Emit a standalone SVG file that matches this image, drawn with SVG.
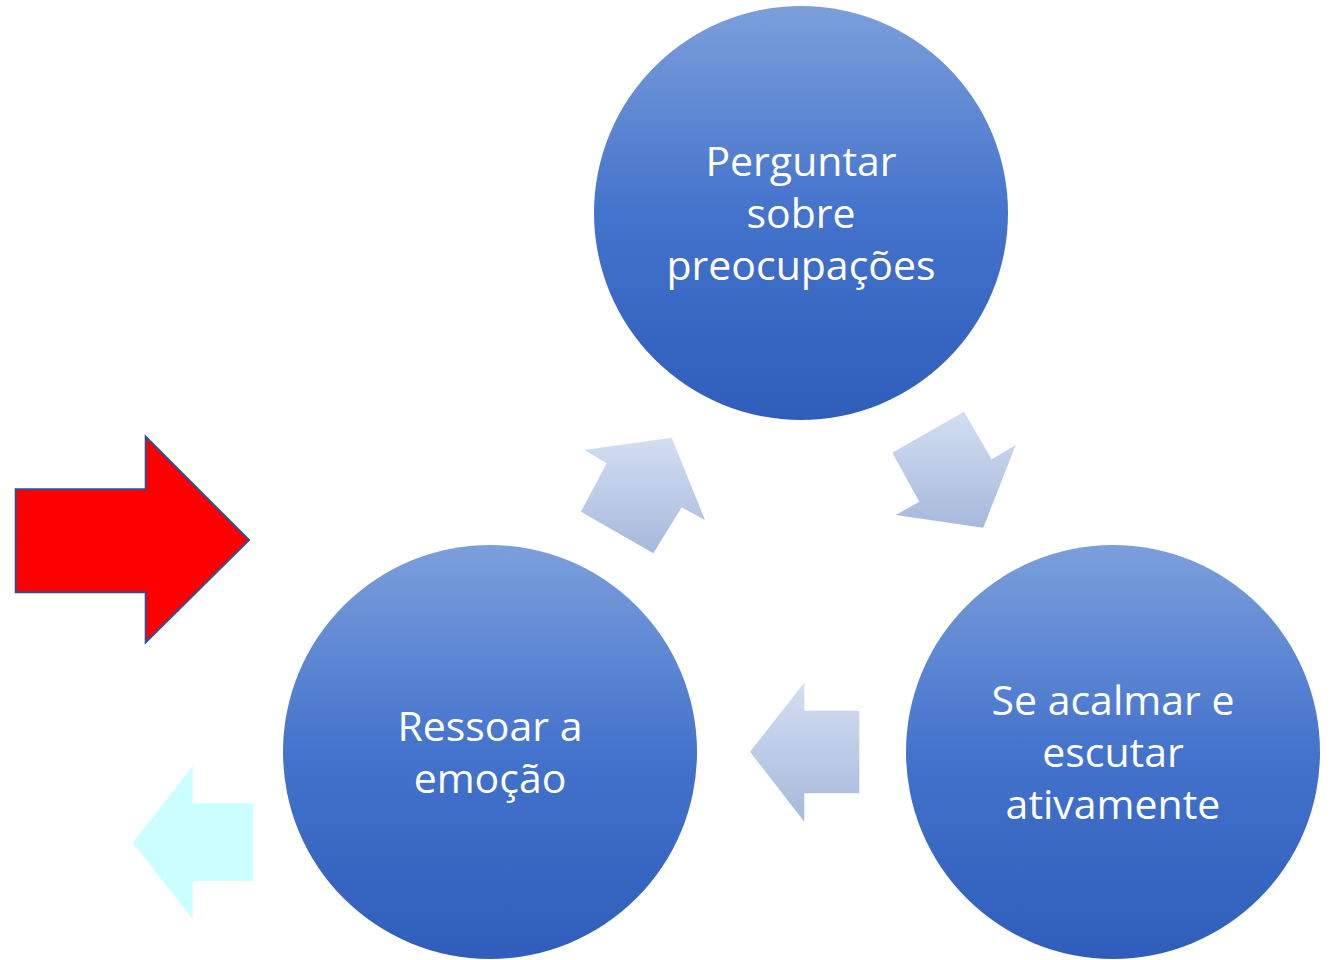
<svg xmlns="http://www.w3.org/2000/svg" width="1332" height="960" viewBox="0 0 1332 960">
<defs>
<linearGradient id="cg" x1="0" y1="0" x2="0" y2="1">
<stop offset="0" stop-color="#7C9FDB"/>
<stop offset="0.5" stop-color="#4473CC"/>
<stop offset="1" stop-color="#2E5DBB"/>
</linearGradient>
<linearGradient id="ag" x1="0" y1="0" x2="0" y2="1">
<stop offset="0" stop-color="#D3DEF2"/>
<stop offset="1" stop-color="#A6B9DC"/>
</linearGradient>
<style>
.c{fill:url(#cg)}
.t{fill:#fff;font-family:"Open Sans","Noto Sans",sans-serif;font-size:41px;text-anchor:middle}
.a{fill:url(#ag)}
</style>
</defs>
<g id="connectors">
<polygon class="a" points="584.3,450 671.7,437.7 705,520 681.7,507.3 653.3,553.3 581,511.7 606.7,463.3"/>
<polygon class="a" points="892.3,452.7 964,411.7 991.7,459.3 1015.7,445 983.3,527.7 895.7,515 919.3,501.7"/>
<polygon class="a" points="750,751.7 804.3,682.7 804.3,710.7 859.3,710.7 859.3,793.3 804.3,793.3 804.3,821.7"/>
</g>
<g id="red-arrow">
<polygon points="15.7,489.3 145.7,489.3 145.7,436.7 249,540 145.7,642.3 145.7,592.3 15.7,592.3" fill="#FF0000" stroke="#2F528F" stroke-width="2"/>
</g>
<g id="cyan-arrow">
<polygon points="132.7,842.7 192.7,766 192.7,803.3 253.3,803.3 253.3,881 192.7,881 192.7,919.3" fill="#CCFFFF"/>
</g>
<g id="node-top">
<circle class="c" cx="801" cy="213" r="207"/>
<text class="t" x="801" y="176">Perguntar</text>
<text class="t" x="801" y="228">sobre</text>
<text class="t" x="801" y="280">preocupações</text>
</g>
<g id="node-left">
<circle class="c" cx="490" cy="752" r="207"/>
<text class="t" x="490" y="741">Ressoar a</text>
<text class="t" x="490" y="793">emoção</text>
</g>
<g id="node-right">
<circle class="c" cx="1113" cy="752" r="207"/>
<text class="t" x="1113" y="715">Se acalmar e</text>
<text class="t" x="1113" y="767">escutar</text>
<text class="t" x="1113" y="819">ativamente</text>
</g>
</svg>
